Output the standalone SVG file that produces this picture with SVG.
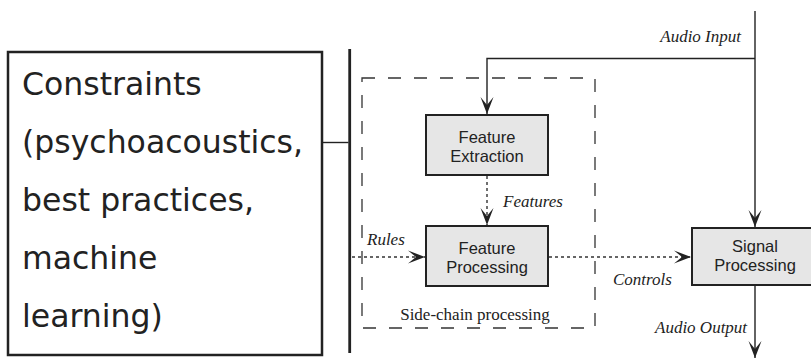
<svg xmlns="http://www.w3.org/2000/svg" width="811" height="360" viewBox="0 0 811 360">
<style>
.box{fill:#e6e6e6;stroke:#222;stroke-width:2}
.bt{font-family:"Liberation Sans",Arial,sans-serif;font-size:16.5px;fill:#222;text-anchor:middle}
.lbl{font-family:"Liberation Serif","Times New Roman",serif;font-size:17px;font-style:italic;fill:#222}
.big{font-family:"DejaVu Sans",Verdana,sans-serif;font-size:31.5px;fill:#222}
.solid{fill:none;stroke:#222;stroke-width:1.4}
.dot{fill:none;stroke:#333;stroke-width:1.4;stroke-dasharray:3 3}
</style>
<defs>
<marker id="ah" markerUnits="userSpaceOnUse" markerWidth="20" markerHeight="16" viewBox="-18 -8 20 16" refX="0" refY="0" orient="auto">
<path d="M0,0 L-17,-6.5 L-9,0 L-17,6.5 Z" fill="#222"/>
</marker>
</defs>
<rect width="811" height="360" fill="#fff"/>
<g id="constraints">
<rect x="8" y="52" width="314" height="303" fill="#fff" stroke="#222" stroke-width="2.5"/>
<text class="big" x="22" y="95">Constraints</text>
<text class="big" x="22" y="153">(psychoacoustics,</text>
<text class="big" x="22" y="211">best practices,</text>
<text class="big" x="22" y="269">machine</text>
<text class="big" x="22" y="327">learning)</text>
</g>
<g id="bar">
<line x1="349.7" y1="49" x2="349.7" y2="353" stroke="#222" stroke-width="2.8"/>
</g>
<g id="sidechain">
<rect x="362" y="78" width="233" height="250" fill="none" stroke="#333" stroke-width="1.3" stroke-dasharray="13 13"/>
<text x="475" y="320" font-family="'Liberation Serif','Times New Roman',serif" font-size="17" fill="#222" text-anchor="middle">Side-chain processing</text>
</g>
<g id="feature-extraction">
<rect class="box" x="426" y="115" width="122" height="60"/>
<text class="bt" x="487" y="143">Feature</text>
<text class="bt" x="487" y="162">Extraction</text>
</g>
<g id="feature-processing">
<rect class="box" x="426" y="226" width="122" height="60"/>
<text class="bt" x="487" y="254">Feature</text>
<text class="bt" x="487" y="273">Processing</text>
</g>
<g id="signal-processing">
<rect class="box" x="692" y="228" width="126" height="57"/>
<text class="bt" x="755" y="252">Signal</text>
<text class="bt" x="755" y="271">Processing</text>
</g>
<g id="connectors">
<line class="solid" x1="322" y1="142.5" x2="348.5" y2="142.5"/>
<line class="solid" x1="755" y1="11" x2="755" y2="227" marker-end="url(#ah)"/>
<polyline class="solid" points="755,58.5 487,58.5 487,114" marker-end="url(#ah)"/>
<line class="dot" x1="487" y1="176" x2="487" y2="225" marker-end="url(#ah)"/>
<line class="dot" x1="352" y1="257" x2="425" y2="257" marker-end="url(#ah)"/>
<line class="dot" x1="549" y1="257" x2="691" y2="257" marker-end="url(#ah)"/>
<line class="solid" x1="755" y1="285" x2="755" y2="358" marker-end="url(#ah)"/>
<text class="lbl" x="741" y="42" text-anchor="end">Audio Input</text>
<text class="lbl" x="503" y="207">Features</text>
<text class="lbl" x="367" y="245">Rules</text>
<text class="lbl" x="613" y="285">Controls</text>
<text class="lbl" x="655" y="333">Audio Output</text>
</g>
</svg>
